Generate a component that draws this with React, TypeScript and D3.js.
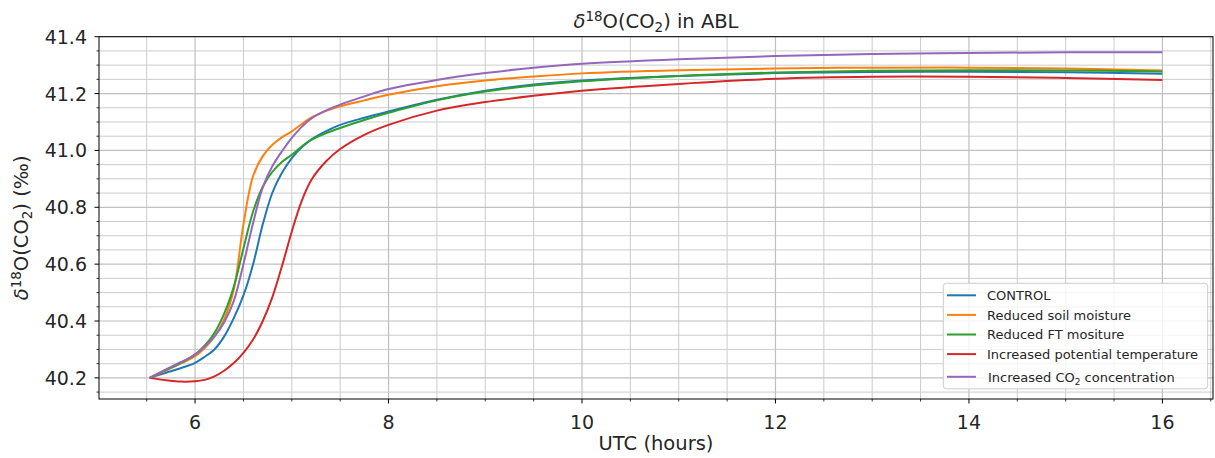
import React from "react";
import * as d3 from "d3";

const TIME = [5.53, 5.7, 5.85, 6.0, 6.1, 6.2, 6.3, 6.4, 6.5, 6.6, 6.7, 6.8, 6.9, 7.0, 7.1, 7.2, 7.35, 7.5, 7.75, 8.0, 8.5, 9, 9.5, 10, 11, 12, 13, 14, 15, 16];

const CONTROL = [40.2, 40.218, 40.234, 40.253, 40.274, 40.300, 40.345, 40.41, 40.49, 40.6, 40.74, 40.852, 40.922, 40.973, 41.01, 41.038, 41.067, 41.09, 41.115, 41.137, 41.178, 41.21, 41.232, 41.246, 41.262, 41.272, 41.276, 41.277, 41.275, 41.27];
const SOIL = [40.2, 40.226, 40.25, 40.276, 40.305, 40.345, 40.405, 40.51, 40.74, 40.91, 40.98, 41.02, 41.047, 41.067, 41.092, 41.115, 41.138, 41.155, 41.176, 41.196, 41.226, 41.246, 41.26, 41.271, 41.282, 41.288, 41.291, 41.291, 41.288, 41.281];
const FT = [40.2, 40.228, 40.252, 40.282, 40.314, 40.358, 40.425, 40.52, 40.655, 40.785, 40.872, 40.925, 40.96, 40.985, 41.013, 41.037, 41.06, 41.079, 41.107, 41.132, 41.176, 41.207, 41.228, 41.243, 41.262, 41.274, 41.28, 41.282, 41.281, 41.278];
const TEMP = [40.2, 40.192, 40.187, 40.188, 40.193, 40.205, 40.225, 40.252, 40.288, 40.335, 40.4, 40.485, 40.595, 40.715, 40.82, 40.895, 40.96, 41.005, 41.055, 41.09, 41.14, 41.17, 41.192, 41.21, 41.234, 41.252, 41.259, 41.259, 41.255, 41.248];
const CO2 = [40.2, 40.23, 40.255, 40.282, 40.31, 40.345, 40.395, 40.47, 40.6, 40.745, 40.87, 40.945, 40.998, 41.044, 41.082, 41.112, 41.14, 41.161, 41.19, 41.216, 41.248, 41.272, 41.291, 41.305, 41.321, 41.332, 41.339, 41.343, 41.345, 41.345];

const SERIES_NAMES = ["CONTROL", "Reduced soil moisture", "Reduced FT mositure", "Increased potential temperature", "Increased CO2 concentration"];
const SERIES_VALUES = [CONTROL, SOIL, FT, TEMP, CO2];
const COLORS = ["#1f77b4", "#ff7f0e", "#2ca02c", "#d62728", "#9467bd"];

const X_MAJOR = [6, 8, 10, 12, 14, 16];
const Y_MAJOR = [40.2, 40.4, 40.6, 40.8, 41.0, 41.2, 41.4];

const W = 1215;
const H = 458;
const L = 99, R = 1213, TOP = 36.7, B = 399;

export default function App() {
  const x = d3.scaleLinear().domain([5.007, 16.523]).range([L, R]);
  const y = d3.scaleLinear().domain([40.1257, 41.4]).range([B, TOP]);

  const xMinor: number[] = [];
  for (let v = 5.5; v <= 16.5 + 1e-9; v += 0.5) {
    if (!X_MAJOR.some((m) => Math.abs(m - v) < 1e-6)) xMinor.push(v);
  }
  const yMinor: number[] = [];
  for (let k = 0; k <= 30; k++) {
    const v = 40.15 + k * 0.05;
    if (v > 41.4 + 1e-6) break;
    if (!Y_MAJOR.some((m) => Math.abs(m - v) < 1e-6)) yMinor.push(v);
  }

  const line = d3
    .line<[number, number]>()
    .x((d) => x(d[0]))
    .y((d) => y(d[1]))
    .curve(d3.curveCatmullRom.alpha(0.5));

  const font = "DejaVu Sans, sans-serif";
  const legendRows = [300, 319.6, 339.2, 358.8, 381.5];

  return (
    <svg width={W} height={H} style={{ position: "absolute", left: 0, top: 0 }} fontFamily={font}>
      <rect x={0} y={0} width={W} height={H} fill="#fff" />
      {xMinor.map((v) => (
        <line key={"xm" + v} x1={x(v)} x2={x(v)} y1={TOP} y2={B} stroke="#cccccc" strokeWidth={1} />
      ))}
      {yMinor.map((v) => (
        <line key={"ym" + v} x1={L} x2={R} y1={y(v)} y2={y(v)} stroke="#cccccc" strokeWidth={1} />
      ))}
      {X_MAJOR.map((v) => (
        <line key={"xg" + v} x1={x(v)} x2={x(v)} y1={TOP} y2={B} stroke="#c0c0c0" strokeWidth={1.2} />
      ))}
      {Y_MAJOR.map((v) => (
        <line key={"yg" + v} x1={L} x2={R} y1={y(v)} y2={y(v)} stroke="#c0c0c0" strokeWidth={1.2} />
      ))}

      {SERIES_VALUES.map((vals, i) => (
        <path
          key={SERIES_NAMES[i]}
          d={line(TIME.map((t, j) => [t, vals[j]] as [number, number])) || ""}
          fill="none"
          stroke={COLORS[i]}
          strokeWidth={2}
          strokeLinejoin="round"
        />
      ))}

      <rect x={L} y={TOP} width={R - L} height={B - TOP} fill="none" stroke="#000" strokeWidth={1} />

      {X_MAJOR.map((v) => (
        <g key={"xt" + v}>
          <line x1={x(v)} x2={x(v)} y1={B} y2={B + 4.5} stroke="#000" strokeWidth={1} />
          <text x={x(v)} y={429} textAnchor="middle" fontSize={19} fill="#262626">
            {v}
          </text>
        </g>
      ))}
      {xMinor.map((v) => (
        <line key={"xmt" + v} x1={x(v)} x2={x(v)} y1={B} y2={B + 2.5} stroke="#000" strokeWidth={0.8} />
      ))}
      {Y_MAJOR.map((v) => (
        <g key={"yt" + v}>
          <line x1={L - 4.5} x2={L} y1={y(v)} y2={y(v)} stroke="#000" strokeWidth={1} />
          <text x={87} y={y(v) + 7} textAnchor="end" fontSize={19} fill="#262626">
            {v.toFixed(1)}
          </text>
        </g>
      ))}
      {yMinor.map((v) => (
        <line key={"ymt" + v} x1={L - 2.5} x2={L} y1={y(v)} y2={y(v)} stroke="#000" strokeWidth={0.8} />
      ))}

      <text x={(L + R) / 2} y={28} textAnchor="middle" fontSize={19.5} fill="#262626">
        <tspan fontStyle="italic">δ</tspan>
        <tspan fontSize={13.5} dy={-7}>18</tspan>
        <tspan dy={7}>O(CO</tspan>
        <tspan fontSize={13.5} dy={4}>2</tspan>
        <tspan dy={-4}>) in ABL</tspan>
      </text>

      <text x={(L + R) / 2} y={450} textAnchor="middle" fontSize={19.5} fill="#262626">
        UTC (hours)
      </text>

      <text transform={`translate(28, ${(TOP + B) / 2 + 10}) rotate(-90)`} textAnchor="middle" fontSize={19.5} fill="#262626">
        <tspan fontStyle="italic">δ</tspan>
        <tspan fontSize={13.5} dy={-7}>18</tspan>
        <tspan dy={7}>O(CO</tspan>
        <tspan fontSize={13.5} dy={4}>2</tspan>
        <tspan dy={-4}>) (‰)</tspan>
      </text>

      <rect x={943.3} y={283.3} width={264.4} height={105.5} rx={3} fill="#fff" fillOpacity={0.8} stroke="#cccccc" strokeWidth={1} />
      {SERIES_NAMES.map((name, i) => (
        <g key={"lg" + name}>
          <line x1={947} x2={976} y1={legendRows[i] - 4.7} y2={legendRows[i] - 4.7} stroke={COLORS[i]} strokeWidth={2} />
          {i === 4 ? (
            <text x={988} y={legendRows[i]} fontSize={13} fill="#262626">
              <tspan>Increased CO</tspan>
              <tspan fontSize={9} dy={3}>2</tspan>
              <tspan dy={-3}> concentration</tspan>
            </text>
          ) : (
            <text x={987} y={legendRows[i]} fontSize={13} fill="#262626">
              {name}
            </text>
          )}
        </g>
      ))}
    </svg>
  );
}
